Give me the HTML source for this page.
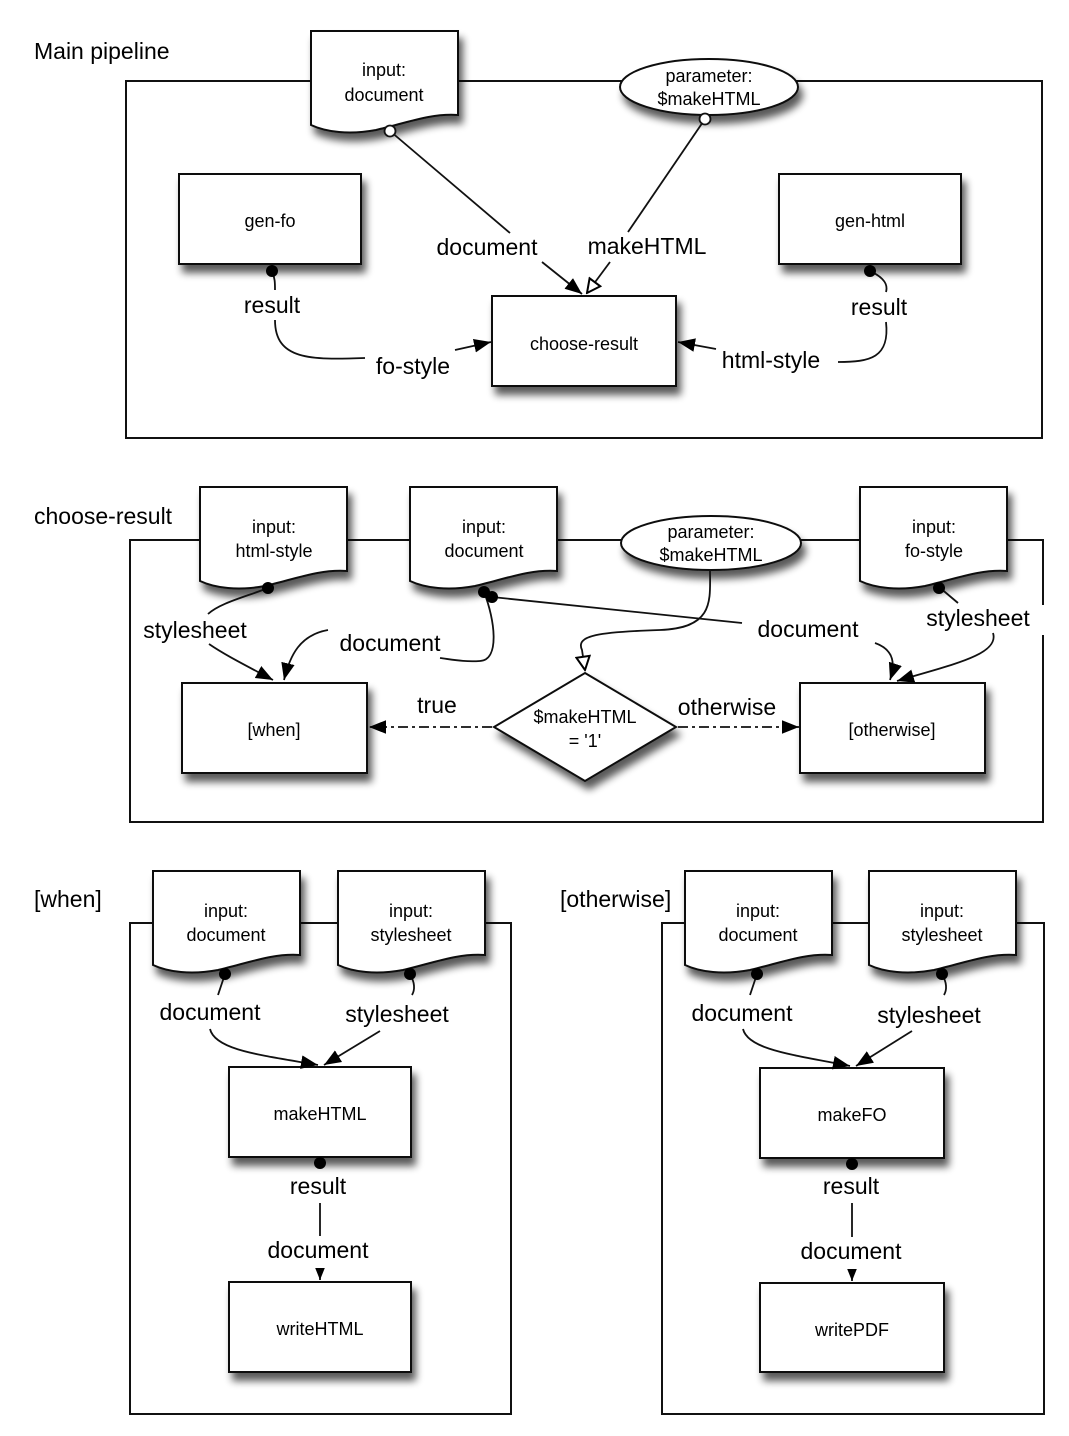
<!DOCTYPE html>
<html><head><meta charset="utf-8"><style>
html,body{margin:0;padding:0;background:#fff;}
svg{display:block;font-family:"Liberation Sans",Arial,sans-serif;}
.n{font-size:18px;}
.l{font-size:23px;}
.t{font-size:23px;}
</style></head><body>
<svg width="1069" height="1436" viewBox="0 0 1069 1436" xmlns="http://www.w3.org/2000/svg">
<defs>
<filter id="sh" x="-20%" y="-20%" width="150%" height="160%">
<feGaussianBlur in="SourceAlpha" stdDeviation="4"/>
<feOffset dx="4" dy="8" result="o"/>
<feComponentTransfer><feFuncA type="linear" slope="0.65"/></feComponentTransfer>
<feMerge><feMergeNode/><feMergeNode in="SourceGraphic"/></feMerge>
</filter>
<path id="doc" d="M0,0 H147 V84 C120,82 95,92 65,99 C38,104 15,101 0,94 Z" fill="#fff" stroke="#111" stroke-width="2"/>
<marker id="af" viewBox="0 0 10 10" refX="10" refY="5" markerWidth="17" markerHeight="17" markerUnits="userSpaceOnUse" orient="auto"><path d="M0,1 L10,5 L0,9 Z" fill="#000"/></marker>
<marker id="as" viewBox="0 0 10 10" refX="10" refY="5" markerWidth="12" markerHeight="12" markerUnits="userSpaceOnUse" orient="auto"><path d="M0,1 L10,5 L0,9 Z" fill="#000"/></marker>
<marker id="ah" viewBox="0 0 12 12" refX="11" refY="6" markerWidth="16" markerHeight="16" markerUnits="userSpaceOnUse" orient="auto"><path d="M1,1 L11,6 L1,11 Z" fill="#fff" stroke="#000" stroke-width="1.5"/></marker>
</defs>

<g fill="none" stroke="#111" stroke-width="2">
<rect x="126" y="81" width="916" height="357"/>
<rect x="130" y="540" width="913" height="282"/>
<rect x="130" y="923" width="381" height="491"/>
<rect x="662" y="923" width="382" height="491"/>
</g>

<!-- Section 1 -->
<g filter="url(#sh)">
<use href="#doc" x="311" y="31"/>
<ellipse cx="709" cy="87" rx="89" ry="28" fill="#fff" stroke="#111" stroke-width="2"/>
<rect x="179" y="174" width="182" height="90" fill="#fff" stroke="#111" stroke-width="2"/>
<rect x="779" y="174" width="182" height="90" fill="#fff" stroke="#111" stroke-width="2"/>
<rect x="492" y="296" width="184" height="90" fill="#fff" stroke="#111" stroke-width="2"/>
</g>
<g fill="none" stroke="#111" stroke-width="1.8">
<line x1="390" y1="131" x2="510" y2="233"/>
<line x1="542" y1="262" x2="582" y2="294" marker-end="url(#af)"/>
<line x1="705" y1="119" x2="628" y2="232"/>
<line x1="610" y1="262" x2="587" y2="293" marker-end="url(#ah)"/>
<path d="M272,271 C275,278 275,283 275,290"/>
<path d="M275,320 C275,360 310,360 365,358"/>
<line x1="455" y1="350" x2="491" y2="342" marker-end="url(#af)"/>
<path d="M870,271 C885,278 888,285 886,292"/>
<path d="M886,322 C890,358 870,362 838,362"/>
<line x1="716" y1="349" x2="678" y2="342" marker-end="url(#af)"/>
</g>
<circle cx="390" cy="131" r="5.5" fill="#fff" stroke="#111" stroke-width="1.8"/>
<circle cx="705" cy="119" r="5.5" fill="#fff" stroke="#111" stroke-width="1.8"/>
<circle cx="272" cy="271" r="6" fill="#000"/>
<circle cx="870" cy="271" r="6" fill="#000"/>
<g text-anchor="middle" fill="#000">
<text class="n" x="384" y="76">input:</text><text class="n" x="384" y="101">document</text>
<text class="n" x="709" y="82">parameter:</text><text class="n" x="709" y="105">$makeHTML</text>
<text class="n" x="270" y="227">gen-fo</text>
<text class="n" x="870" y="227">gen-html</text>
<text class="n" x="584" y="350">choose-result</text>
<text class="l" x="487" y="255">document</text>
<text class="l" x="647" y="254">makeHTML</text>
<text class="l" x="272" y="313">result</text>
<text class="l" x="879" y="315">result</text>
<text class="l" x="413" y="374">fo-style</text>
<text class="l" x="771" y="368">html-style</text>
</g>
<text class="t" x="34" y="59">Main pipeline</text>

<!-- Section 2 -->
<g filter="url(#sh)">
<use href="#doc" x="200" y="487"/>
<use href="#doc" x="410" y="487"/>
<use href="#doc" x="860" y="487"/>
<ellipse cx="711" cy="543" rx="90" ry="27" fill="#fff" stroke="#111" stroke-width="2"/>
<rect x="182" y="683" width="185" height="90" fill="#fff" stroke="#111" stroke-width="2"/>
<rect x="800" y="683" width="185" height="90" fill="#fff" stroke="#111" stroke-width="2"/>
<polygon points="585,673 676,727 585,781 494,727" fill="#fff" stroke="#111" stroke-width="2"/>
</g>
<g fill="none" stroke="#111" stroke-width="1.8">
<path d="M268,588 C245,597 220,603 208,614"/>
<path d="M209,644 C225,655 245,665 273,680" marker-end="url(#af)"/>
<path d="M328,630 C300,635 290,655 284,680" marker-end="url(#af)"/>
<path d="M484,592 C495,620 500,660 480,661 C465,662 455,660 440,658"/>
<path d="M492,597 L742,623"/>
<path d="M875,643 C895,650 895,665 890,680" marker-end="url(#af)"/>
<path d="M993,633 C1000,655 950,665 897,681" marker-end="url(#af)"/>
<path d="M939,587 L958,603"/>
<path d="M710,569 C710,600 715,628 660,630 C600,632 575,635 582,650 L585,670" marker-end="url(#ah)"/>
<line x1="492" y1="727" x2="369" y2="727" stroke-dasharray="10,4,3,4" marker-end="url(#af)"/>
<line x1="678" y1="727" x2="799" y2="727" stroke-dasharray="10,4,3,4" marker-end="url(#af)"/>
</g>
<circle cx="268" cy="588" r="6" fill="#000"/>
<circle cx="484" cy="592" r="6" fill="#000"/>
<circle cx="492" cy="597" r="6" fill="#000"/>
<circle cx="939" cy="588" r="6" fill="#000"/>
<rect x="1040" y="605" width="6" height="30" fill="#fff"/>
<g text-anchor="middle" fill="#000">
<text class="n" x="274" y="533">input:</text><text class="n" x="274" y="557">html-style</text>
<text class="n" x="484" y="533">input:</text><text class="n" x="484" y="557">document</text>
<text class="n" x="934" y="533">input:</text><text class="n" x="934" y="557">fo-style</text>
<text class="n" x="711" y="538">parameter:</text><text class="n" x="711" y="561">$makeHTML</text>
<text class="n" x="274" y="736">[when]</text>
<text class="n" x="892" y="736">[otherwise]</text>
<text class="n" x="585" y="723">$makeHTML</text><text class="n" x="585" y="747">= '1'</text>
<text class="l" x="195" y="638">stylesheet</text>
<text class="l" x="390" y="651">document</text>
<text class="l" x="808" y="637">document</text>
<text class="l" x="978" y="626">stylesheet</text>
<text class="l" x="437" y="713">true</text>
<text class="l" x="727" y="715">otherwise</text>
</g>
<text class="t" x="34" y="524">choose-result</text>

<!-- Section 3 -->
<g filter="url(#sh)">
<use href="#doc" x="153" y="871"/>
<use href="#doc" x="338" y="871"/>
<use href="#doc" x="685" y="871"/>
<use href="#doc" x="869" y="871"/>
<rect x="229" y="1067" width="182" height="90" fill="#fff" stroke="#111" stroke-width="2"/>
<rect x="229" y="1282" width="182" height="90" fill="#fff" stroke="#111" stroke-width="2"/>
<rect x="760" y="1068" width="184" height="90" fill="#fff" stroke="#111" stroke-width="2"/>
<rect x="760" y="1283" width="184" height="89" fill="#fff" stroke="#111" stroke-width="2"/>
</g>
<g fill="none" stroke="#111" stroke-width="1.8">
<line x1="225" y1="974" x2="218" y2="995"/>
<path d="M210,1029 C215,1050 260,1055 318,1065" marker-end="url(#af)"/>
<path d="M410,975 C415,982 415,990 412,995"/>
<line x1="380" y1="1031" x2="324" y2="1065" marker-end="url(#af)"/>
<line x1="320" y1="1203" x2="320" y2="1236"/>
<line x1="320" y1="1268" x2="320" y2="1280" marker-end="url(#as)"/>
<line x1="757" y1="974" x2="750" y2="995"/>
<path d="M743,1029 C748,1050 795,1055 850,1066" marker-end="url(#af)"/>
<path d="M942,975 C947,982 947,990 944,995"/>
<line x1="912" y1="1031" x2="856" y2="1066" marker-end="url(#af)"/>
<line x1="852" y1="1203" x2="852" y2="1237"/>
<line x1="852" y1="1269" x2="852" y2="1281" marker-end="url(#as)"/>
</g>
<circle cx="225" cy="974" r="6" fill="#000"/>
<circle cx="410" cy="974" r="6" fill="#000"/>
<circle cx="757" cy="974" r="6" fill="#000"/>
<circle cx="942" cy="974" r="6" fill="#000"/>
<circle cx="320" cy="1163" r="6" fill="#000"/>
<circle cx="852" cy="1164" r="6" fill="#000"/>
<g text-anchor="middle" fill="#000">
<text class="n" x="226" y="917">input:</text><text class="n" x="226" y="941">document</text>
<text class="n" x="411" y="917">input:</text><text class="n" x="411" y="941">stylesheet</text>
<text class="n" x="758" y="917">input:</text><text class="n" x="758" y="941">document</text>
<text class="n" x="942" y="917">input:</text><text class="n" x="942" y="941">stylesheet</text>
<text class="n" x="320" y="1120">makeHTML</text>
<text class="n" x="320" y="1335">writeHTML</text>
<text class="n" x="852" y="1121">makeFO</text>
<text class="n" x="852" y="1336">writePDF</text>
<text class="l" x="210" y="1020">document</text>
<text class="l" x="397" y="1022">stylesheet</text>
<text class="l" x="318" y="1194">result</text>
<text class="l" x="318" y="1258">document</text>
<text class="l" x="742" y="1021">document</text>
<text class="l" x="929" y="1023">stylesheet</text>
<text class="l" x="851" y="1194">result</text>
<text class="l" x="851" y="1259">document</text>
</g>
<text class="t" x="34" y="907">[when]</text>
<text class="t" x="560" y="907">[otherwise]</text>
</svg>
</body></html>
